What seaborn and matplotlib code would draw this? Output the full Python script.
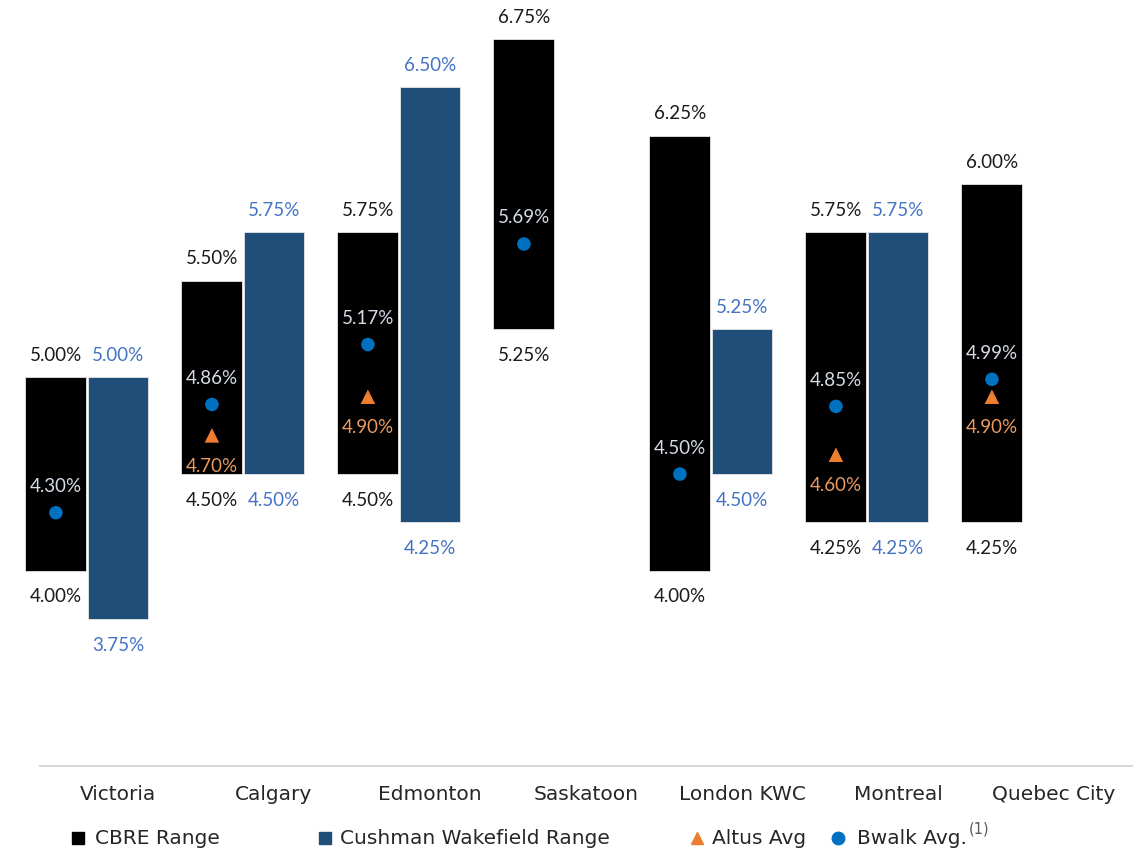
import matplotlib
matplotlib.use("Agg")
import matplotlib.pyplot as plt
import seaborn as sns
import numpy as np
import pandas as pd
from matplotlib.lines import Line2D

# ---- data ----
cities = ["Victoria", "Calgary", "Edmonton", "Saskatoon", "London KWC", "Montreal", "Quebec City"]
cbre_low = [4.00, 4.50, 4.50, 5.25, 4.00, 4.25, 4.25]
cbre_high = [5.00, 5.50, 5.75, 6.75, 6.25, 5.75, 6.00]
cw_low = [3.75, 4.50, 4.25, None, 4.50, 4.25, None]
cw_high = [5.00, 5.75, 6.50, None, 5.25, 5.75, None]
altus_avg = [None, 4.70, 4.90, None, None, 4.60, 4.90]
bwalk_avg = [4.30, 4.86, 5.17, 5.69, 4.50, 4.85, 4.99]
legend_labels = ["CBRE Range", "Cushman Wakefield Range", "Altus Avg", "Bwalk Avg."]

sns.set_theme(style="white")
plt.rcParams["font.family"] = ["Lato", "DejaVu Sans"]

W, H = 1140, 858
fig = plt.figure(figsize=(W / 100, H / 100), dpi=100)
ax = fig.add_axes([40 / W, (H - 766) / H, 1092 / W, 766 / H])
ax.set_xlim(-0.5, 6.5)
ax.set_ylim(2.990, 6.952)

BLACK = "#000000"
NAVY = "#1F4E79"
DOT = "#0070C0"
ORANGE = "#ED7D31"
FS = 13.5
LFS = 14.5
LFONT = ["DejaVu Sans"]
bw = 0.39
off_cbre = -0.398

x = np.arange(len(cities))

# CBRE bars
ax.bar(x + off_cbre, np.array(cbre_high) - np.array(cbre_low), bottom=cbre_low, width=bw,
       color=BLACK, edgecolor="#E6E6E6", linewidth=0.6, clip_on=False, zorder=2)
# Cushman bars
cw_idx = [i for i in range(len(cities)) if cw_low[i] is not None]
ax.bar(x[cw_idx], [cw_high[i] - cw_low[i] for i in cw_idx], bottom=[cw_low[i] for i in cw_idx],
       width=bw, color=NAVY, edgecolor="#E6E6E6", linewidth=0.6, clip_on=False, zorder=2)

# markers via seaborn
bw_df = pd.DataFrame({"x": x + off_cbre, "y": bwalk_avg})
sns.scatterplot(data=bw_df, x="x", y="y", ax=ax, color=DOT, s=95, marker="o",
                edgecolor="none", zorder=4, legend=False)
al_idx = [i for i in range(len(cities)) if altus_avg[i] is not None]
al_df = pd.DataFrame({"x": x[al_idx] + off_cbre, "y": [altus_avg[i] for i in al_idx]})
sns.scatterplot(data=al_df, x="x", y="y", ax=ax, color=ORANGE, s=110, marker="^",
                edgecolor="none", zorder=4, legend=False)

u = 1 / 193.3  # data units per pixel
for i in range(len(cities)):
    xc = x[i] + off_cbre
    ax.text(xc, cbre_high[i] + 22 * u, f"{cbre_high[i]:.2f}%", ha="center", va="center",
            fontsize=FS, color="#1A1A1A")
    ax.text(xc, cbre_low[i] - 26 * u, f"{cbre_low[i]:.2f}%", ha="center", va="center",
            fontsize=FS, color="#1A1A1A")
    if cw_low[i] is not None:
        ax.text(x[i], cw_high[i] + 22 * u, f"{cw_high[i]:.2f}%", ha="center", va="center",
                fontsize=FS, color="#4472C4")
        ax.text(x[i], cw_low[i] - 26 * u, f"{cw_low[i]:.2f}%", ha="center", va="center",
                fontsize=FS, color="#4472C4")
    ax.text(xc, bwalk_avg[i] + 26 * u, f"{bwalk_avg[i]:.2f}%", ha="center", va="center",
            fontsize=FS, color="#D6DCE6", zorder=5)
    if altus_avg[i] is not None:
        ax.text(xc, altus_avg[i] - 31 * u, f"{altus_avg[i]:.2f}%", ha="center", va="center",
                fontsize=FS, color="#EA9A5E", zorder=5)

# axes styling
for s in ["top", "right", "left"]:
    ax.spines[s].set_visible(False)
ax.spines["bottom"].set_color("#D9D9D9")
ax.spines["bottom"].set_linewidth(1.5)
ax.set_yticks([])
ax.set_xticks(x)
ax.set_xticklabels(cities, fontsize=LFS, color="#262626", family=LFONT)
ax.tick_params(axis="x", length=0, pad=14)
ax.set_xlabel("")
ax.set_ylabel("")

# legend (manual)
ly = 1 - 839 / H
items = [(78, 95, "s", BLACK, 8),
         (325, 340, "s", NAVY, 8),
         (697, 712, "^", ORANGE, 8),
         (838, 857, "o", DOT, 9)]
last = None
for (mx, tx, m, c, ms), lab in zip(items, legend_labels):
    fig.add_artist(Line2D([mx / W], [ly + 1.5 / H], marker=m, color=c, markersize=ms,
                          linestyle="none", transform=fig.transFigure))
    last = fig.text(tx / W, ly, lab, ha="left", va="center", fontsize=LFS, color="#262626",
                    family=LFONT)
fig.canvas.draw()
bb = last.get_window_extent()
fig.text((bb.x1 + 2) / W, 1 - 829 / H, "(1)", ha="left", va="center", fontsize=10.5,
         color="#595959", family=LFONT)

fig.savefig("out.png", dpi=100)
